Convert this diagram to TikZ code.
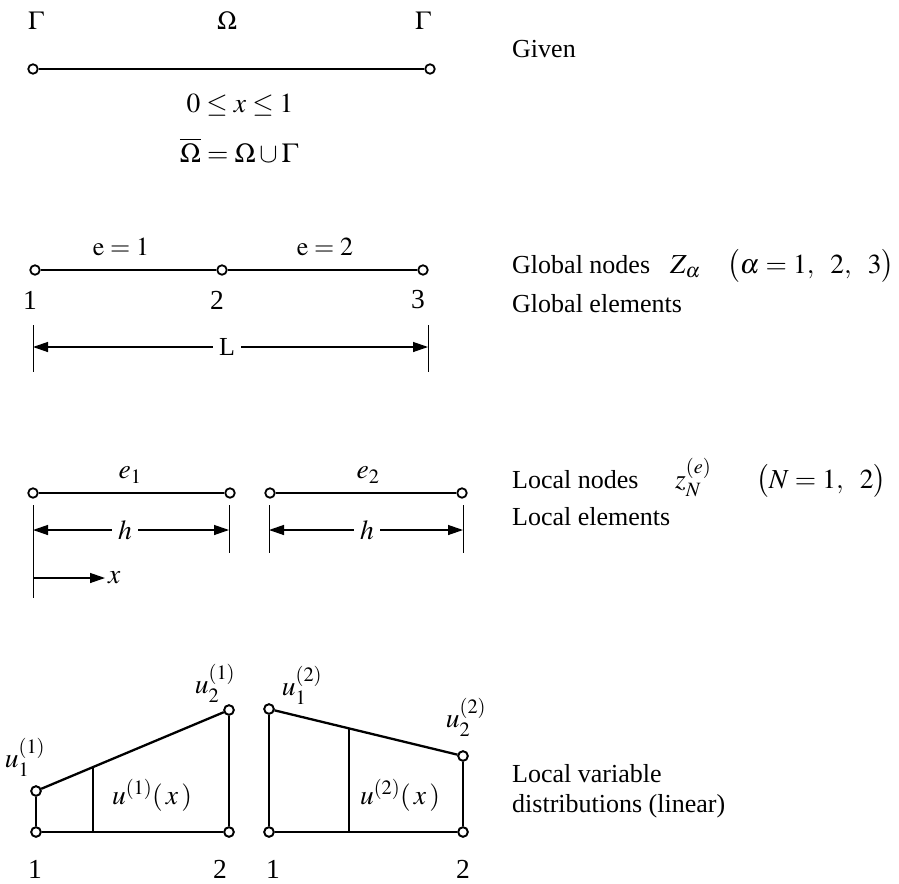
\documentclass[tikz,border=0pt]{standalone}
\usepackage{mathptmx}
\usepackage{fontspec}
\setmainfont{Liberation Serif}
\usetikzlibrary{arrows.meta,calc}
\tikzset{
  pnt/.style={circle,draw,fill=white,inner sep=0pt,minimum size=9.5pt,line width=1.8pt},
  bar/.style={line width=2.3pt},
  tick/.style={line width=0.9pt},
  dimarrow/.style={line width=1.3pt,-{Triangle[length=15pt,width=10pt]}},
  lbl/.style={inner sep=0pt},
  mth/.style={font=\fontsize{27.5}{32}\selectfont},
  txt/.style={inner sep=0pt,anchor=base west},
}
\begin{document}
\begin{tikzpicture}[x=1pt,y=-1pt,every node/.append style={font=\fontsize{26}{30}\selectfont}]
\useasboundingbox (0,0) rectangle (899,883);
% ---------- Section 1: Given
\node[pnt] (g1) at (33,69) {};
\node[pnt] (g2) at (430,69) {};
\draw[bar] (g1) -- (g2);
\node[lbl] (gam1) at (36,21) {$\Gamma$};
\node[lbl] (om) at (227,21) {$\Omega$};
\node[lbl] (gam2) at (423,21) {$\Gamma$};
\node[lbl,mth] (dom) at (240,105) {$0\le x\le 1$};
\node[lbl,mth] (clos) at (239,150) {$\overline{\Omega}=\Omega\cup\Gamma$};
\node[txt] (given) at (512,57) {Given};
% ---------- Section 2: Global
\node[pnt] (n1) at (35,270) {};
\node[pnt] (n2) at (222,270) {};
\node[pnt] (n3) at (423,270) {};
\draw[bar] (n1) -- (n2);
\draw[bar] (n2) -- (n3);
\node[lbl] (e1) at (121,247) {$\mathrm{e}=1$};
\node[lbl] (e2) at (325,247) {$\mathrm{e}=2$};
\node[lbl,mth] (l1) at (30,300) {1};
\node[lbl,mth] (l2) at (217,300) {2};
\node[lbl,mth] (l3) at (418,300) {3};
\coordinate (t1a) at (33,325); \coordinate (t1b) at (33,372);
\coordinate (t2a) at (428,325); \coordinate (t2b) at (428,372);
\draw[tick] (t1a) -- (t1b);
\draw[tick] (t2a) -- (t2b);
\node[inner sep=6pt] (L) at (227,347) {L};
\coordinate (La) at (33,347); \coordinate (Lb) at (428,347);
\draw[dimarrow] (L) -- (La);
\draw[dimarrow] (L) -- (Lb);
\node[txt] (gn) at (512,273) {Global nodes};
\node[txt,mth] (gz) at (670,273) {$Z_\alpha$};
\node[txt,mth] (gp) at (727,273) {$\bigl(\alpha=1,\;\ 2,\;\ 3\bigr)$};
\node[txt] (ge) at (512,312) {Global elements};
% ---------- Section 3: Local
\node[pnt] (p1) at (33,493) {};
\node[pnt] (p2) at (230,493) {};
\node[pnt] (p3) at (270,493) {};
\node[pnt] (p4) at (462,493) {};
\draw[bar] (p1) -- (p2);
\draw[bar] (p3) -- (p4);
\node[lbl,mth] (le1) at (130,475) {$e_1$};
\node[lbl,mth] (le2) at (368,475) {$e_2$};
\coordinate (s1a) at (33,505); \coordinate (s1b) at (33,598);
\coordinate (s2a) at (229,505); \coordinate (s2b) at (229,553);
\coordinate (s3a) at (269,505); \coordinate (s3b) at (269,553);
\coordinate (s4a) at (463,505); \coordinate (s4b) at (463,553);
\draw[tick] (s1a) -- (s1b);
\draw[tick] (s2a) -- (s2b);
\draw[tick] (s3a) -- (s3b);
\draw[tick] (s4a) -- (s4b);
\node[inner sep=6pt,mth] (h1) at (125,530) {$h$};
\node[inner sep=6pt,mth] (h2) at (367,530) {$h$};
\coordinate (h1a) at (33,530); \coordinate (h1b) at (229,530);
\coordinate (h2a) at (269,530); \coordinate (h2b) at (463,530);
\draw[dimarrow] (h1) -- (h1a);
\draw[dimarrow] (h1) -- (h1b);
\draw[dimarrow] (h2) -- (h2a);
\draw[dimarrow] (h2) -- (h2b);
\coordinate (xa) at (33,578);
\node[anchor=west,inner sep=3pt,mth] (xl) at (105,578) {$x$};
\draw[dimarrow] (xa) -- (xl.west);
\node[txt] (ln) at (512,488) {Local nodes};
\node[txt,mth] (lz) at (675,488) {$z_N^{(e)}$};
\node[txt,mth] (lp) at (756,488) {$\bigl(N=1,\;\ 2\bigr)$};
\node[txt] (lel) at (512,525) {Local elements};
% ---------- Section 4: distributions
\node[pnt] (a1) at (36,832) {};
\node[pnt] (a2) at (229,832) {};
\node[pnt] (a3) at (36,791) {};
\node[pnt] (a4) at (229,710) {};
\draw[bar] (a1) -- (a2);
\draw[bar] (a1) -- (a3);
\draw[bar] (a3) -- (a4);
\draw[bar] (a2) -- (a4);
\coordinate (am) at ($(a3.center)!0.295!(a4.center)$);
\draw[bar] (am) -- (am |- a1.center);
\node[pnt] (b1) at (269,832) {};
\node[pnt] (b2) at (463,832) {};
\node[pnt] (b3) at (269,709) {};
\node[pnt] (b4) at (463,756) {};
\draw[bar] (b1) -- (b2);
\draw[bar] (b1) -- (b3);
\draw[bar] (b3) -- (b4);
\draw[bar] (b2) -- (b4);
\coordinate (bm) at ($(b3.center)!0.412!(b4.center)$);
\draw[bar] (bm) -- (bm |- b1.center);
% redraw points on top
\foreach \p in {a1,a2,a3,a4,b1,b2,b3,b4}{\node[pnt] at (\p) {};}
\node[lbl,mth] (ua1) at (25,757) {$u_1^{(1)}$};
\node[lbl,mth] (ua2) at (215,683) {$u_2^{(1)}$};
\node[lbl,mth] (ua) at (152,795) {$u^{(1)}(\,x\,)$};
\node[lbl,mth] (ub1) at (302,685) {$u_1^{(2)}$};
\node[lbl,mth] (ub2) at (466,717) {$u_2^{(2)}$};
\node[lbl,mth] (ub) at (400,795) {$u^{(2)}(\,x\,)$};
\node[lbl,mth] (k1) at (35,869) {1};
\node[lbl,mth] (k2) at (220,869) {2};
\node[lbl,mth] (k3) at (273,869) {1};
\node[lbl,mth] (k4) at (463,869) {2};
\node[txt] (lv1) at (512,782) {Local variable};
\node[txt] (lv2) at (512,812) {distributions (linear)};
\end{tikzpicture}
\end{document}
